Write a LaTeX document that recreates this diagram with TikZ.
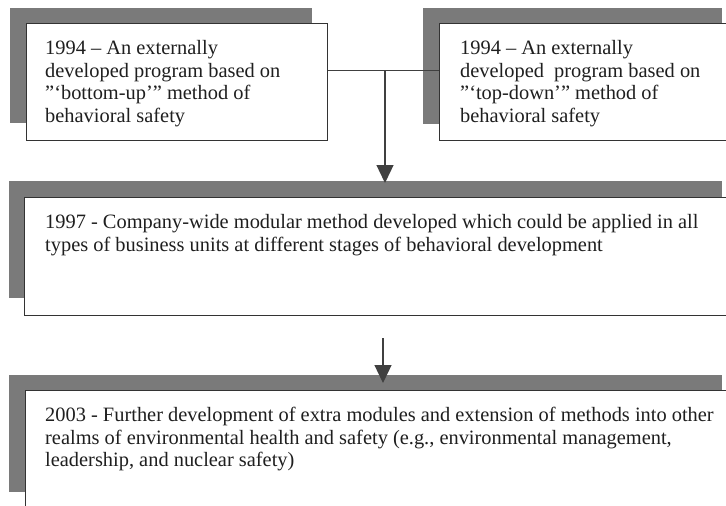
\documentclass[tikz,border=0pt]{standalone}
\usepackage{fontspec}
\setmainfont{Liberation Serif}
\usetikzlibrary{arrows.meta,calc}

\tikzset{
  shadowbox/.style={rectangle, anchor=north west, inner sep=0pt, draw=none, fill=black!52},
  stagebox/.style={rectangle, anchor=north west, inner sep=0pt, draw=black!80, line width=1.3pt, fill=white},
  stagetext/.style={anchor=north west, inner sep=0pt, align=left, text=black!88,
    font=\fontsize{20.4}{22.6}\selectfont},
  link/.style={draw=black!75, line width=1.3pt},
  flowarrow/.style={link, -{Triangle[length=18pt,width=17pt]}, black!75},
}

\begin{document}
\begin{tikzpicture}[x=1pt,y=-1pt]
  \fill[white] (0,0) rectangle (726,506);
  \useasboundingbox (0,0) rectangle (726,506);

  % shadow blocks behind each stage
  \node[shadowbox, minimum width=302pt, minimum height=115pt] (s1) at (10,8) {};
  \node[shadowbox, minimum width=299pt, minimum height=116pt] (s2) at (423,8) {};
  \node[shadowbox, minimum width=713pt, minimum height=117pt] (s3) at (9,181) {};
  \node[shadowbox, minimum width=713pt, minimum height=117pt] (s4) at (9,375) {};

  % stage boxes
  \node[stagebox, minimum width=301pt, minimum height=117pt] (b1) at (26,23) {};
  \node[stagebox, minimum width=301pt, minimum height=117pt] (b2) at (439,23) {};
  \node[stagebox, minimum width=716pt, minimum height=118pt] (b3) at (24,197) {};
  \node[stagebox, minimum width=716pt, minimum height=118pt] (b4) at (25,390) {};

  % stage texts
  \node[stagetext] (t1) at ($(b1.north west)+(19,15.5)$)
    {\strut 1994 -- An externally\\developed program based on\\”‘bottom-up’” method of\\behavioral safety};
  \node[stagetext] (t2) at ($(b2.north west)+(21,15.5)$)
    {\strut 1994 -- An externally\\developed\ \ program based on\\”‘top-down’” method of\\behavioral safety};
  \node[stagetext] (t3) at ($(b3.north west)+(21,15.5)$)
    {\strut 1997 - Company-wide modular method developed which could be applied in all\\types of business units at different stages of behavioral development};
  \node[stagetext] (t4) at ($(b4.north west)+(20,15.5)$)
    {\strut 2003 - Further development of extra modules and extension of methods into other\\realms of environmental health and safety (e.g., environmental management,\\leadership, and nuclear safety)};

  % connectors
  \coordinate (j) at (385,70.5);
  \coordinate (a2) at (383,338);
  \draw[link] (j -| b1.east) -- (j -| b2.west);
  \draw[flowarrow] (j) -- ($(s3.north -| j)+(0,2)$);
  \draw[flowarrow] (a2) -- ($(s4.north -| a2)+(0,8)$);
\end{tikzpicture}
\end{document}
